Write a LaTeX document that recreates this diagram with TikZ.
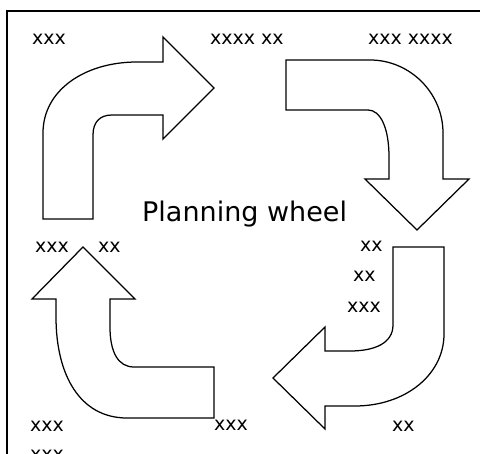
\documentclass[tikz,border=0pt]{standalone}
\usepackage{fontspec}
\setmainfont{DejaVu Sans}
\begin{document}
\begin{tikzpicture}[x=1pt,y=-1pt,
  bentarrow/.style={draw=black,fill=white,line width=1.25pt,line join=miter},
  lbl/.style={anchor=base west,inner sep=0pt,font=\fontsize{19}{22}\selectfont},
  title/.style={anchor=base west,inner sep=0pt,font=\fontsize{27}{32}\selectfont}]
\useasboundingbox (0,0) rectangle (480,454);
% frame
\draw[line width=1.4pt] (7,460) -- (7,11) -- (485,11);

% top-left arrow, pointing right
\path[bentarrow] (43,219) -- (43,133)
  .. controls (43,90) and (85,62) .. (137,62) -- (163,62) -- (163,37)
  -- (214,88) -- (163,139) -- (163,115) -- (112,115)
  .. controls (100,115) and (93,122) .. (93,135) -- (93,219) -- cycle;

% top-right arrow, pointing down
\path[bentarrow] (286,60) -- (370,60)
  .. controls (410,60) and (443,93) .. (443,133) -- (443,179) -- (469,179)
  -- (417,230) -- (365,179) -- (389,179) -- (389,157)
  .. controls (389,127) and (380,110) .. (368,110) -- (286,110) -- cycle;

% bottom-right arrow, pointing left
\path[bentarrow] (393,247) -- (444,247) -- (444,334)
  .. controls (444,375) and (405,406) .. (355,406) -- (325,406) -- (325,429)
  -- (273,378) -- (325,327) -- (325,351) -- (350,351)
  .. controls (375,351) and (393,343) .. (393,325) -- cycle;

% bottom-left arrow, pointing up
\path[bentarrow] (214,367) -- (214,418) -- (127,418)
  .. controls (80,418) and (56,375) .. (56,317) -- (56,299) -- (32,299)
  -- (83,247) -- (135,299) -- (110,299) -- (110,327)
  .. controls (110,352) and (118,367) .. (134,367) -- cycle;

% labels
\node[title] (ttl) at (142,222) {Planning wheel};
\node[lbl] (t1) at (32,45) {xxx};
\node[lbl] (t2) at (210,45) {xxxx xx};
\node[lbl] (t3) at (368,45) {xxx xxxx};
\node[lbl] (m1) at (35,253) {xxx};
\node[lbl] (m2) at (98,253) {xx};
\node[lbl] (r1) at (360,252) {xx};
\node[lbl] (r2) at (353,282) {xx};
\node[lbl] (r3) at (347,313) {xxx};
\node[lbl] (b1) at (30,432) {xxx};
\node[lbl] (b2) at (30,461) {xxx};
\node[lbl] (b3) at (214,431) {xxx};
\node[lbl] (b4) at (392,432) {xx};
\end{tikzpicture}
\end{document}
